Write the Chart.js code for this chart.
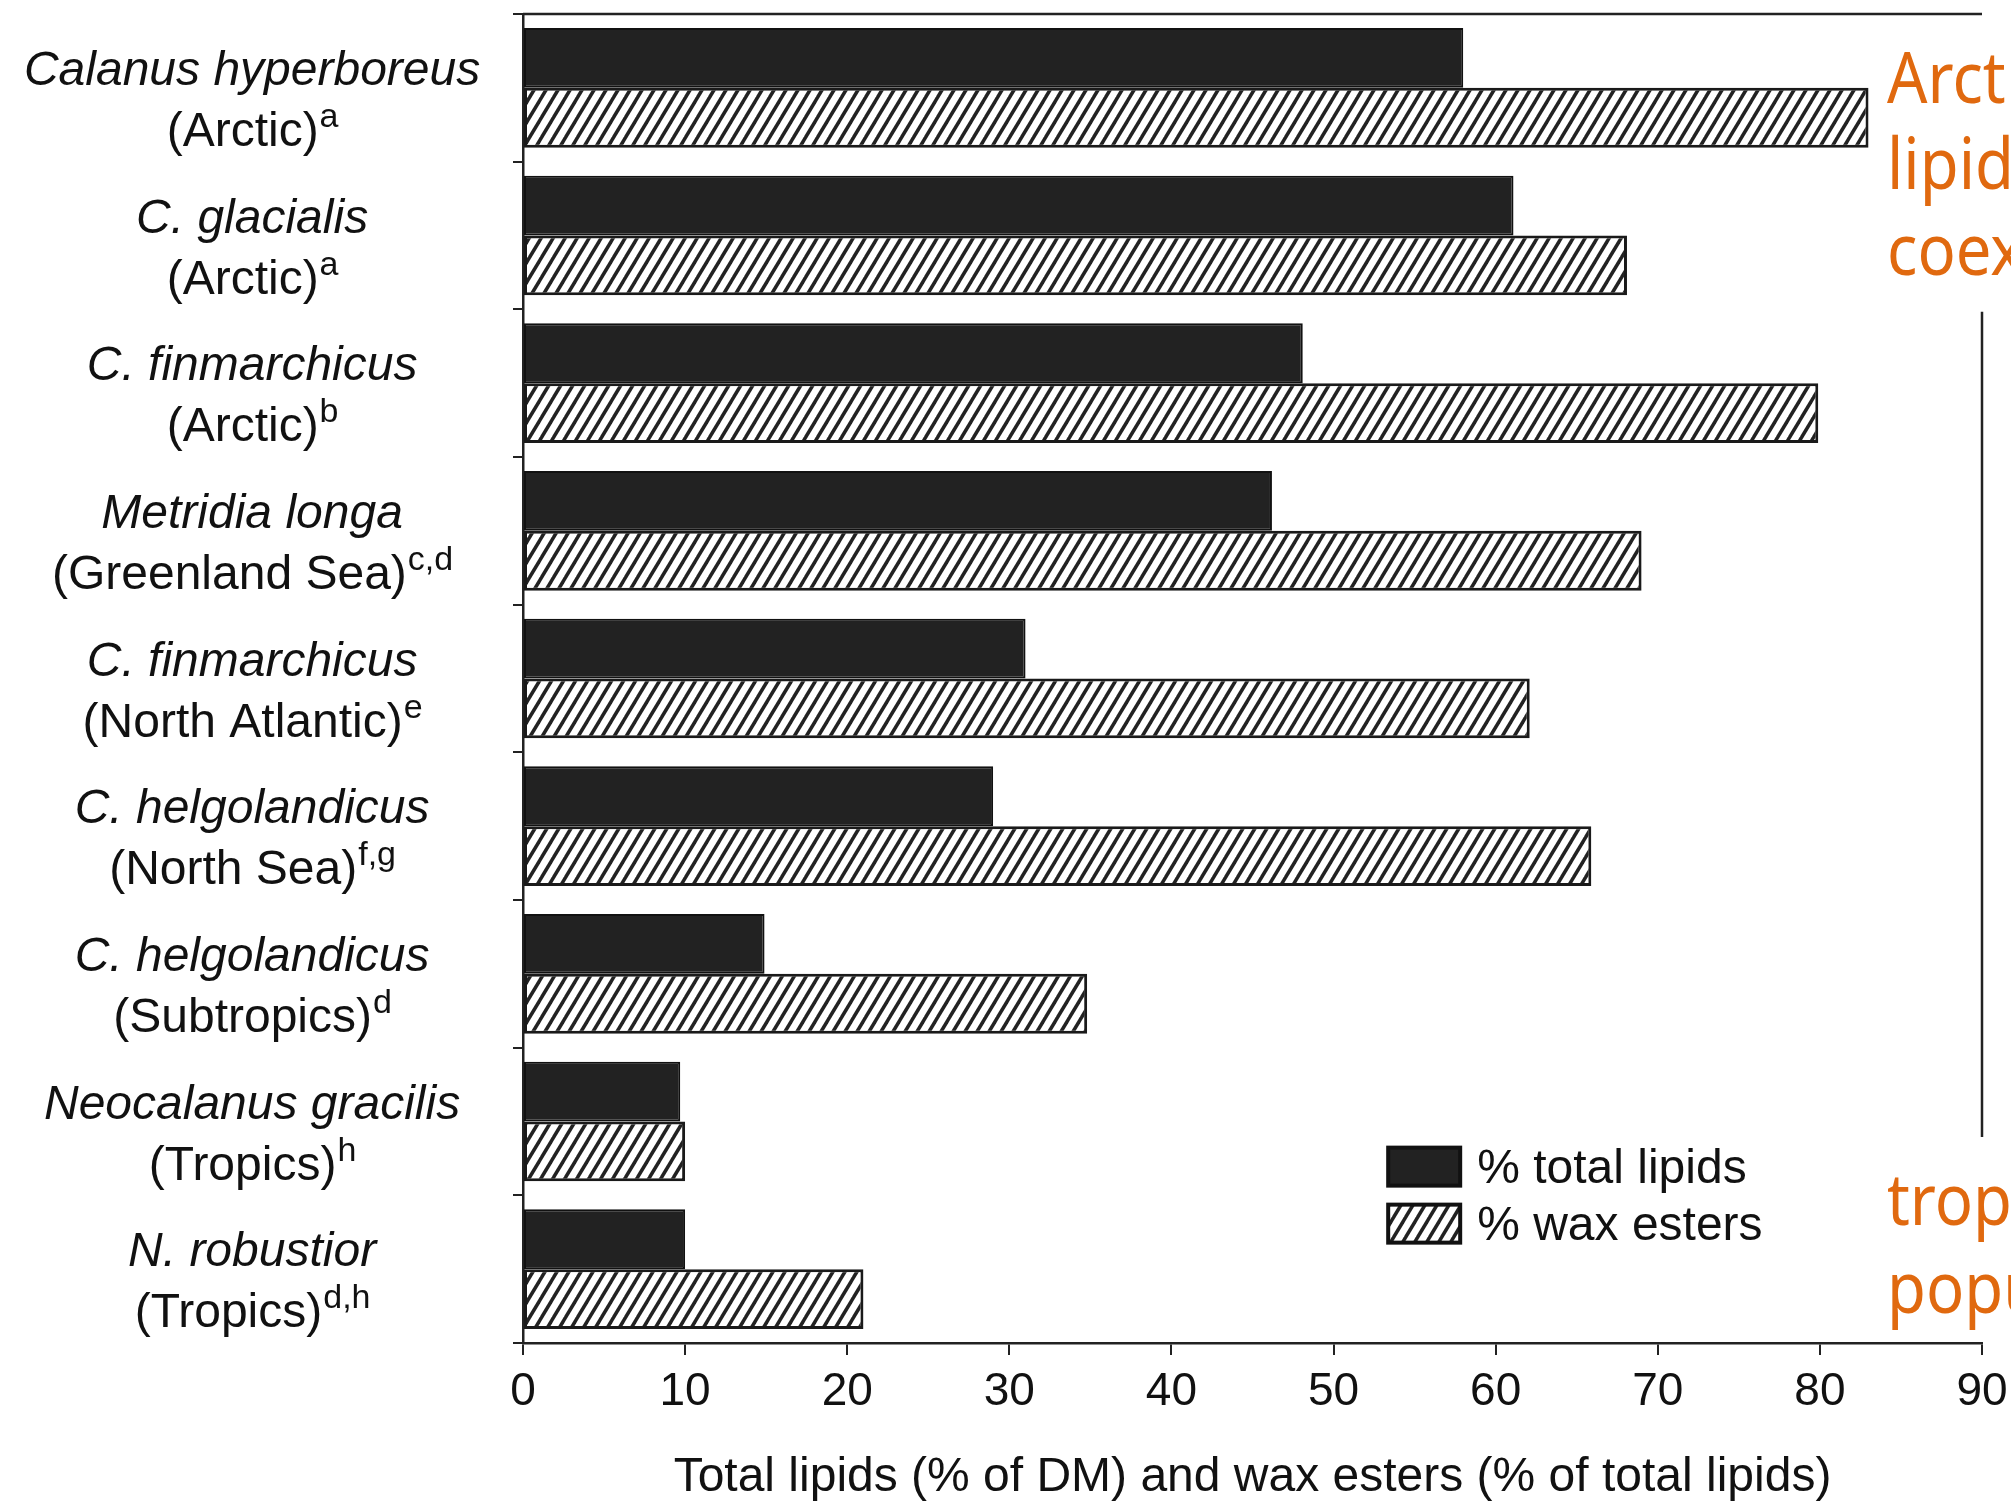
<!DOCTYPE html>
<html>
<head>
<meta charset="utf-8">
<script src="https://cdn.jsdelivr.net/npm/chart.js@4.4.1/dist/chart.umd.min.js"></script>
<style>
  html, body { margin: 0; padding: 0; background: #fff; }
</style>
</head>
<body>
<canvas id="chart" width="2011" height="1502"></canvas>
<script>
// values
const species = ['Calanus hyperboreus', 'C. glacialis', 'C. finmarchicus', 'Metridia longa',
    'C. finmarchicus', 'C. helgolandicus', 'C. helgolandicus', 'Neocalanus gracilis', 'N. robustior'];
const regions = ['(Arctic)', '(Arctic)', '(Arctic)', '(Greenland Sea)', '(North Atlantic)',
    '(North Sea)', '(Subtropics)', '(Tropics)', '(Tropics)'];
const refs = ['a', 'a', 'b', 'c,d', 'e', 'f,g', 'd', 'h', 'd,h'];
const totalLipids = [58, 61.1, 48.1, 46.2, 31, 29, 14.9, 9.7, 10];
const waxEsters = [83, 68.1, 79.9, 69, 62.1, 65.9, 34.8, 10, 21];
const seriesNames = ['% total lipids', '% wax esters'];
const xMin = 0, xMax = 90, xStep = 10;
const xTitle = 'Total lipids (% of DM) and wax esters (% of total lipids)';
const notesTop = ['Arct', 'lipid', 'coex'];
const notesBottom = ['trop', 'popu'];

const FONT = '"Liberation Sans", Arial, sans-serif';
const INK = '#111';
const ORANGE = '#e0690f';

function makeHatch(color) {
    const w = 12, h = 20;
    const c = document.createElement('canvas');
    c.width = w;
    c.height = h;
    const g = c.getContext('2d');
    g.fillStyle = '#fff';
    g.fillRect(0, 0, w, h);
    g.strokeStyle = color;
    g.lineWidth = 3.5;
    for (let k = 0; k <= 2; k++) {
        g.beginPath();
        g.moveTo((k + 1) * w, -h);
        g.lineTo((k - 2) * w, 2 * h);
        g.stroke();
    }
    return g.createPattern(c, 'repeat');
}

const hatch = makeHatch('#222');

const decorations = {
    id: 'decorations',
    afterDraw: (chart) => {
        const { ctx, chartArea: { left, top, right, bottom }, scales: { y } } = chart;
        ctx.save();

        // top frame line and the visible part of the right frame
        ctx.strokeStyle = '#222';
        ctx.lineWidth = 2.5;
        ctx.beginPath();
        ctx.moveTo(left, top);
        ctx.lineTo(right, top);
        ctx.moveTo(right, top + (bottom - top) * 0.224);
        ctx.lineTo(right, top + (bottom - top) * 0.845);
        ctx.stroke();

        // category labels: italic species + region with superscript refs
        ctx.fillStyle = INK;
        ctx.textBaseline = 'alphabetic';
        const cx = left * 0.482;
        species.forEach((name, i) => {
            const cy = y.getPixelForValue(i);
            ctx.font = 'italic 48px ' + FONT;
            ctx.textAlign = 'center';
            ctx.fillText(name, cx, cy - 3);

            ctx.font = '48px ' + FONT;
            const w1 = ctx.measureText(regions[i]).width;
            ctx.font = '34px ' + FONT;
            const w2 = ctx.measureText(refs[i]).width;
            const x0 = cx - (w1 + w2) / 2;
            ctx.textAlign = 'left';
            ctx.font = '48px ' + FONT;
            ctx.fillText(regions[i], x0, cy + 58);
            ctx.font = '34px ' + FONT;
            ctx.fillText(refs[i], x0 + w1 + 1, cy + 58 - 19);
        });

        // legend inside the plot
        const lx = left + (right - left) * 0.593;
        const ly = top + (bottom - top) * 0.853;
        chart.data.datasets.forEach((ds, i) => {
            const by = ly + i * 57;
            ctx.fillStyle = ds.backgroundColor;
            ctx.fillRect(lx, by, 72, 38);
            ctx.strokeStyle = '#111';
            ctx.lineWidth = 4;
            ctx.strokeRect(lx, by, 72, 38);
            ctx.fillStyle = INK;
            ctx.font = '48px ' + FONT;
            ctx.textAlign = 'left';
            ctx.textBaseline = 'middle';
            ctx.fillText(ds.label, lx + 89, by + 22);
        });

        // orange annotation fragments cut off at the right edge
        ctx.fillStyle = ORANGE;
        ctx.textBaseline = 'alphabetic';
        ctx.font = '72px "Noto Sans", sans-serif';
        const nx = right - 95;
        ctx.save();
        ctx.translate(nx, 0);
        ctx.scale(0.88, 1);
        notesTop.forEach((t, i) => ctx.fillText(t, 0, 103 + i * 86));
        notesBottom.forEach((t, i) => ctx.fillText(t, 0, 1225 + i * 88));
        ctx.restore();

        ctx.restore();
    }
};

new Chart(document.getElementById('chart').getContext('2d'), {
    type: 'bar',
    data: {
        labels: species,
        datasets: [{
            label: seriesNames[0],
            data: totalLipids,
            backgroundColor: '#222',
            borderColor: '#111',
            borderWidth: 2
        }, {
            label: seriesNames[1],
            data: waxEsters,
            backgroundColor: hatch,
            borderColor: '#1a1a1a',
            borderWidth: 3
        }]
    },
    options: {
        indexAxis: 'y',
        responsive: false,
        animation: false,
        devicePixelRatio: 1,
        layout: { padding: { top: 14, right: 29, left: 0, bottom: 0 } },
        datasets: {
            bar: { barPercentage: 1, categoryPercentage: 0.81, borderSkipped: false }
        },
        plugins: {
            legend: { display: false },
            tooltip: { enabled: false }
        },
        scales: {
            x: {
                min: xMin,
                max: xMax,
                ticks: {
                    stepSize: xStep,
                    color: INK,
                    padding: 10,
                    font: { family: FONT, size: 46 }
                },
                grid: { drawOnChartArea: false, tickLength: 12, color: '#222', lineWidth: 2 },
                border: { color: '#222', width: 2.5 },
                title: {
                    display: true,
                    text: xTitle,
                    color: INK,
                    padding: 0,
                    font: { family: FONT, size: 48, lineHeight: 1.0 }
                },
                afterFit: (s) => {
                    s.height = 159;
                    s.paddingLeft = 0;
                    s.paddingRight = 0;
                }
            },
            y: {
                ticks: { display: false },
                grid: { drawOnChartArea: false, tickLength: 10, color: '#222', lineWidth: 2, offset: true },
                border: { color: '#222', width: 2.5 },
                afterFit: (s) => { s.width = 523; }
            }
        }
    },
    plugins: [decorations]
});
</script>
</body>
</html>
